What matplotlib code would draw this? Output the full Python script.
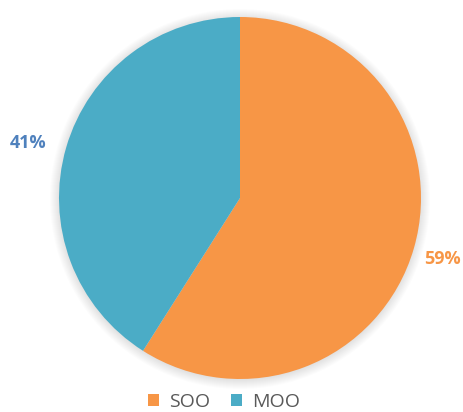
import matplotlib.pyplot as plt
from matplotlib.patches import Circle

# shares per category
labels = ["SOO", "MOO"]
shares = [59, 41]
colors = ["#F79646", "#4BACC6"]
label_colors = ["#F79646", "#4F81BD"]

plt.rcParams['font.family'] = ['Open Sans', 'DejaVu Sans']

fig = plt.figure(figsize=(4.63, 4.12), dpi=100)
ax = fig.add_axes([0, 0, 1, 1])

cx, cy, r = 240, 214, 181

# soft shadow around the pie
for i in range(10):
    ax.add_patch(Circle((cx, cy - 1), r + 9 - i, color='#000000', alpha=0.012,
                        lw=0, zorder=1))

wedges, _ = ax.pie(shares, colors=colors, startangle=90, counterclock=False,
                   center=(cx, cy), radius=r, frame=True,
                   wedgeprops=dict(linewidth=0, zorder=2))
ax.set_xlim(0, 463)
ax.set_ylim(0, 412)
ax.set_aspect('equal')
ax.axis('off')

# percentage labels outside the pie
ax.text(442, 412 - 259, f"{shares[0]}%", color=label_colors[0], fontsize=13,
        fontweight='bold', ha='center', va='center')
ax.text(28, 412 - 143, f"{shares[1]}%", color=label_colors[1], fontsize=13,
        fontweight='bold', ha='center', va='center')

leg = ax.legend(wedges, labels, loc='center', frameon=False, ncol=2,
                handlelength=0.55, handleheight=0.55, handletextpad=0.5,
                columnspacing=1.1, fontsize=14,
                bbox_to_anchor=(224 / 463, 1 - 402 / 412),
                bbox_transform=fig.transFigure)
for t in leg.get_texts():
    t.set_color('#595959')

fig.savefig("out.png", dpi=100)
